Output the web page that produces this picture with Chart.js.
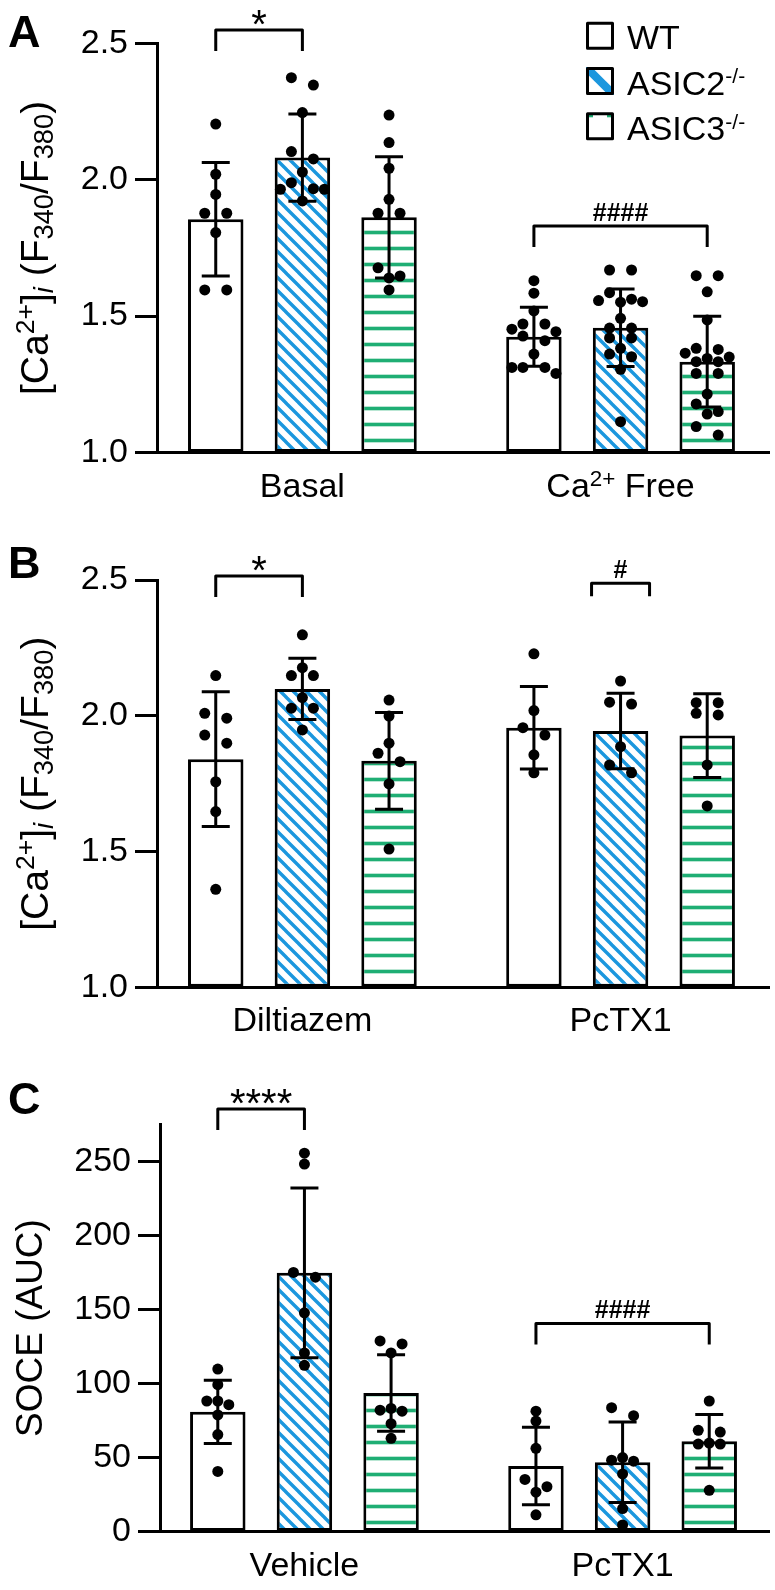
<!DOCTYPE html>
<html>
<head>
<meta charset="utf-8">
<script src="https://cdn.jsdelivr.net/npm/chart.js@4.4.0/dist/chart.umd.min.js"></script>
<style>
  body { margin: 0; background: #fff; overflow: hidden; }
  .panel { position: absolute; left: 0; width: 775px; }
</style>
</head>
<body>
<div class="panel" style="top:0px"><canvas id="chartA" width="775" height="515" style="width:775px;height:515px"></canvas></div>
<div class="panel" style="top:515px"><canvas id="chartB" width="775" height="535" style="width:775px;height:535px"></canvas></div>
<div class="panel" style="top:1050px"><canvas id="chartC" width="775" height="540" style="width:775px;height:540px"></canvas></div>
<script>
// ---- data ----
const genotypes = ['WT', 'ASIC2-/-', 'ASIC3-/-'];
const legendLabels = ['WT', 'ASIC2^{-/-}', 'ASIC3^{-/-}'];

// Panel A
const groupsA = ['Basal', 'Ca^{2+} Free'];
const yTitleA = '[Ca^{2+}]_{i} (F_{340}/F_{380})';
const yRangeA = [1.0, 2.5, 0.5];
const meanA = [[1.855, 2.081, 1.862], [1.424, 1.457, 1.333]];
const sdA = [[0.208, 0.160, 0.222], [0.108, 0.142, 0.166]];
const pointsA = [
  [
    [2.204, 2.02, 1.946, 1.877, 1.877, 1.806, 1.596, 1.596],
    [2.374, 2.347, 2.246, 2.103, 2.076, 2.028, 1.989, 1.967, 1.965, 1.965, 1.922],
    [2.237, 2.136, 2.042, 1.928, 1.877, 1.877, 1.677, 1.647, 1.640, 1.596]
  ],
  [
    [1.630, 1.584, 1.519, 1.471, 1.471, 1.452, 1.443, 1.427, 1.410, 1.361, 1.312, 1.312, 1.312, 1.290],
    [1.669, 1.669, 1.586, 1.562, 1.557, 1.553, 1.551, 1.492, 1.456, 1.456, 1.42, 1.42, 1.382, 1.361, 1.351, 1.305, 1.113],
    [1.648, 1.648, 1.589, 1.486, 1.382, 1.378, 1.364, 1.35, 1.345, 1.333, 1.333, 1.290, 1.290, 1.214, 1.178, 1.150, 1.141, 1.095, 1.064]
  ]
];
const bracketsA = [
  { g: 0, a: 0, b: 1, y: 2.549, text: '*' },
  { g: 1, a: 0, b: 2, y: 1.830, text: '####' }
];

// Panel B
const groupsB = ['Diltiazem', 'PcTX1'];
const yTitleB = '[Ca^{2+}]_{i} (F_{340}/F_{380})';
const yRangeB = [1.0, 2.5, 0.5];
const meanB = [[1.840, 2.099, 1.834], [1.956, 1.944, 1.927]];
const sdB = [[0.248, 0.113, 0.178], [0.152, 0.139, 0.154]];
const pointsB = [
  [
    [2.148, 2.009, 1.991, 1.929, 1.899, 1.757, 1.647, 1.361],
    [2.298, 2.177, 2.148, 2.148, 2.067, 2.028, 2.028, 1.948],
    [2.058, 1.999, 1.899, 1.862, 1.831, 1.749, 1.509]
  ],
  [
    [2.228, 2.019, 1.956, 1.929, 1.856, 1.790],
    [2.128, 2.050, 2.043, 1.886, 1.819, 1.790],
    [2.048, 2.048, 2.009, 2.003, 1.819, 1.668]
  ]
];
const bracketsB = [
  { g: 0, a: 0, b: 1, y: 2.515, text: '*' },
  { g: 1, a: 1, b: 1, y: 2.488, text: '#' }
];

// Panel C
const groupsC = ['Vehicle', 'PcTX1'];
const yTitleC = 'SOCE (AUC)';
const yRangeC = [0, 275, 50];
const meanC = [[80.9, 174.8, 93.6], [44.3, 46.8, 61.0]];
const sdC = [[21.4, 57.3, 25.9], [26.2, 27.2, 18.1]];
const pointsC = [
  [
    [109.8, 99.2, 88.2, 88.2, 85.7, 78.8, 65.5, 40.6],
    [255.7, 248.3, 175.1, 171.9, 147.8, 120.7, 112.3],
    [128.8, 126.8, 120.7, 83.2, 82.0, 81.3, 72.9, 63.0]
  ],
  [
    [81.3, 74.6, 56.2, 35.2, 30.3, 26.6, 11.3],
    [83.7, 78.3, 50.0, 48.2, 47.5, 38.9, 15.5, 4.4],
    [88.2, 68.4, 67.2, 59.8, 59.1, 59.1, 27.8]
  ]
];
const bracketsC = [
  { g: 0, a: 0, b: 1, y: 285.5, text: '****' },
  { g: 1, a: 0, b: 2, y: 140.6, text: '####' }
];

// ---- drawing ----
const FONT = "'Liberation Sans', Arial, Helvetica, sans-serif";
const GAP = 3.672;        // x distance between the two groups (bar units)
const BLUE = '#1b97de';
const GREEN = '#1fae74';
const DOT_STEP = 11;      // px between dot columns
const DOT_ROW = 9.5;      // px: dots closer than this share a row

Chart.defaults.font.family = FONT;
Chart.defaults.color = '#000';

function diagPattern(ctx) {
  const s = 13;
  const c = document.createElement('canvas');
  c.width = s; c.height = s;
  const g = c.getContext('2d');
  g.fillStyle = '#fff';
  g.fillRect(0, 0, s, s);
  g.strokeStyle = BLUE;
  g.lineWidth = 3.4;
  g.beginPath();
  [-s, 0, s].forEach(o => { g.moveTo(o - 1, -1); g.lineTo(o + s + 1, s + 1); });
  g.stroke();
  return ctx.createPattern(c, 'repeat');
}

function stripePattern(ctx) {
  const c = document.createElement('canvas');
  c.width = 4; c.height = 16;
  const g = c.getContext('2d');
  g.fillStyle = '#fff';
  g.fillRect(0, 0, 4, 16);
  g.fillStyle = '#b9e6d3';
  g.fillRect(0, 6, 4, 5);
  g.fillStyle = GREEN;
  g.fillRect(0, 7, 4, 3);
  return ctx.createPattern(c, 'repeat');
}

function parseRich(s) {
  const out = [];
  const re = /([\^_])\{([^}]*)\}/g;
  let last = 0, m;
  while ((m = re.exec(s))) {
    if (m.index > last) out.push({ t: s.slice(last, m.index), k: 'n' });
    out.push({ t: m[2], k: m[1] === '^' ? 'sup' : 'sub' });
    last = re.lastIndex;
  }
  if (last < s.length) out.push({ t: s.slice(last), k: 'n' });
  return out;
}

function drawRich(ctx, text, x, y, size, align, o = {}) {
  const supS = o.supScale || 0.65, supR = o.supRaise || 0.32;
  const subS = o.subScale || 0.7, subD = o.subDrop || 0.16;
  const segs = parseRich(text).map(s => {
    const sz = s.k === 'n' ? size : size * (s.k === 'sup' ? supS : subS);
    const italic = s.k === 'sub' && /^[a-z]+$/i.test(s.t);
    const font = (italic ? 'italic ' : '') + sz + 'px ' + FONT;
    ctx.font = font;
    const dy = s.k === 'sup' ? -size * supR : (s.k === 'sub' ? size * subD : 0);
    return { t: s.t, font, dy, w: ctx.measureText(s.t).width };
  });
  const total = segs.reduce((a, s) => a + s.w, 0);
  let cx = align === 'center' ? x - total / 2 : (align === 'right' ? x - total : x);
  ctx.textAlign = 'left';
  ctx.textBaseline = 'alphabetic';
  segs.forEach(s => { ctx.font = s.font; ctx.fillText(s.t, cx, y + s.dy); cx += s.w; });
}

function decoPlugin(p) {
  return {
    id: 'deco',
    afterDatasetsDraw(chart) {
      const { ctx, scales: { x, y } } = chart;
      ctx.save();
      ctx.strokeStyle = '#000';
      ctx.lineWidth = 3;
      p.means.forEach((row, g) => row.forEach((m, j) => {
        const px = x.getPixelForValue(g * GAP + j);
        const t = y.getPixelForValue(m + p.sds[g][j]);
        const b = y.getPixelForValue(m - p.sds[g][j]);
        ctx.beginPath();
        ctx.moveTo(px, t); ctx.lineTo(px, b);
        ctx.moveTo(px - 14, t); ctx.lineTo(px + 14, t);
        ctx.moveTo(px - 14, b); ctx.lineTo(px + 14, b);
        ctx.stroke();
      }));
      ctx.restore();
    },
    afterDraw(chart) {
      const { ctx, chartArea, scales: { x, y } } = chart;
      ctx.save();
      ctx.fillStyle = '#000';
      ctx.strokeStyle = '#000';

      // group labels under the axis
      p.groups.forEach((label, g) => {
        drawRich(ctx, label, x.getPixelForValue(g * GAP + 1), chartArea.bottom + 44, 34, 'center',
          { supScale: 0.66, supRaise: 0.3 });
      });

      // y axis title
      ctx.save();
      ctx.translate(p.titleX, (chartArea.top + chartArea.bottom) / 2);
      ctx.rotate(-Math.PI / 2);
      drawRich(ctx, p.title, 0, 0, p.titleSize, 'center', { supScale: 0.68, supRaise: 0.36, subScale: 0.7, subDrop: 0.14 });
      ctx.restore();

      // panel letter
      ctx.font = 'bold 45px ' + FONT;
      ctx.textAlign = 'left';
      ctx.textBaseline = 'alphabetic';
      ctx.fillText(p.letter, 8, p.letterY);

      // significance brackets
      ctx.lineWidth = 3;
      ctx.lineJoin = 'round';
      p.brackets.forEach(br => {
        const single = br.a === br.b;
        const x1 = x.getPixelForValue(br.g * GAP + br.a) - (single ? 29 : 0);
        const x2 = x.getPixelForValue(br.g * GAP + br.b) + (single ? 29 : 0);
        const top = y.getPixelForValue(br.y);
        const leg = single ? 13 : 21;
        ctx.beginPath();
        ctx.moveTo(x1, top + leg); ctx.lineTo(x1, top); ctx.lineTo(x2, top); ctx.lineTo(x2, top + leg);
        ctx.stroke();
        const star = br.text[0] === '*';
        ctx.font = star ? '40px ' + FONT : 'bold 25px ' + FONT;
        ctx.textAlign = 'center';
        ctx.fillText(br.text, (x1 + x2) / 2, star ? top + 8 : top - 5.5);
      });

      // legend
      if (p.legend) {
        legendLabels.forEach((label, i) => {
          const bx = 586, by = 21.7 + i * 45.3, bs = 28;
          ctx.save();
          ctx.beginPath();
          ctx.rect(bx, by, bs, bs);
          ctx.clip();
          ctx.fillStyle = '#fff';
          ctx.fillRect(bx, by, bs, bs);
          if (i === 1) {
            ctx.strokeStyle = BLUE;
            ctx.lineWidth = 8;
            ctx.beginPath();
            ctx.moveTo(bx, by); ctx.lineTo(bx + bs, by + bs);
            ctx.stroke();
          } else if (i === 2) {
            ctx.fillStyle = GREEN;
            ctx.fillRect(bx + 2, by + 2.5, 5, 2.5);
            ctx.fillRect(bx + bs - 7, by + 2.5, 5, 2.5);
          }
          ctx.restore();
          ctx.lineWidth = 3;
          ctx.strokeStyle = '#000';
          ctx.strokeRect(bx + 1.5, by + 1.5, bs - 3, bs - 3);
          ctx.fillStyle = '#000';
          drawRich(ctx, label, 627, by + 27.5, 34, 'left', { supScale: 0.62, supRaise: 0.33 });
        });
      }
      ctx.restore();
    }
  };
}

function spreadDots(chart) {
  const xs = chart.scales.x, ys = chart.scales.y;
  const pxPerUnit = xs.getPixelForValue(1) - xs.getPixelForValue(0);
  chart.data.datasets.forEach(ds => {
    if (ds.type !== 'scatter') return;
    const byBar = {};
    const pts = ds.data.map(p => ({ ...p }));
    pts.forEach(p => { (byBar[p.c] = byBar[p.c] || []).push(p); });
    Object.values(byBar).forEach(list => {
      const sorted = list.slice().sort((a, b) => b.y - a.y);
      let i = 0;
      while (i < sorted.length) {
        const y0 = ys.getPixelForValue(sorted[i].y);
        let j = i + 1;
        while (j < sorted.length && ys.getPixelForValue(sorted[j].y) - y0 < DOT_ROW) j++;
        const n = j - i;
        const cols = n % 2 ? [0] : [];
        for (let k = 1; cols.length < n; k++) cols.push(-k, k);
        for (let k = 0; k < n; k++) sorted[i + k].x = sorted[i + k].c + cols[k] * DOT_STEP / pxPerUnit;
        i = j;
      }
    });
    ds.data = pts;
  });
  chart.update('none');
}

function makePanel(p) {
  const canvas = document.getElementById(p.id);
  const ctx = canvas.getContext('2d');
  const fills = ['#fff', diagPattern(ctx), stripePattern(ctx)];
  const datasets = [];
  genotypes.forEach((name, j) => {
    datasets.push({
      type: 'bar',
      label: name,
      data: p.means.map((row, g) => ({ x: g * GAP + j, y: row[j] })),
      base: p.yRange[0],
      grouped: false,
      categoryPercentage: 1,
      barPercentage: 0.64,
      backgroundColor: fills[j],
      borderColor: '#000',
      borderWidth: 3,
      borderSkipped: false,
      order: 2
    });
  });
  genotypes.forEach((name, j) => {
    const pts = [];
    p.points.forEach((row, g) => row[j].forEach(v => pts.push({ x: g * GAP + j, y: v, c: g * GAP + j })));
    datasets.push({
      type: 'scatter',
      label: name + ' cells',
      data: pts,
      pointRadius: 5.5,
      pointHoverRadius: 5.5,
      backgroundColor: '#000',
      borderWidth: 0,
      clip: false,
      order: 1
    });
  });

  const chart = new Chart(canvas, {
    type: 'bar',
    data: { datasets },
    options: {
      responsive: false,
      animation: false,
      devicePixelRatio: 1,
      events: [],
      layout: { padding: { top: p.top, right: 3, left: 0, bottom: 0 } },
      plugins: { legend: { display: false }, tooltip: { enabled: false } },
      scales: {
        x: {
          type: 'linear',
          min: p.xMin,
          max: p.xMin + (772 - p.yAxisW) / 87,
          offset: false,
          afterFit: s => { s.height = p.height - p.bottom; },
          afterBuildTicks: s => { s.ticks = p.groups.map((_, g) => ({ value: g * GAP + 1 })); },
          border: { display: true, width: 3, color: '#000' },
          grid: { display: false },
          ticks: { display: false }
        },
        y: {
          min: p.yRange[0],
          max: p.yRange[1],
          afterFit: s => { s.width = p.yAxisW; },
          border: { display: true, width: 3, color: '#000' },
          grid: { display: true, drawOnChartArea: false, drawTicks: true, tickLength: 22, tickWidth: 3, tickColor: '#000' },
          ticks: {
            stepSize: p.yRange[2],
            includeBounds: false,
            padding: 7,
            color: '#000',
            font: { size: 34 },
            callback: v => (p.yRange[2] < 1 ? v.toFixed(1) : String(v))
          }
        }
      }
    },
    plugins: [decoPlugin(p)]
  });
  spreadDots(chart);
  return chart;
}

makePanel({
  id: 'chartA', letter: 'A', letterY: 47, legend: true,
  height: 515, top: 43.3, bottom: 452.5, yAxisW: 157, xMin: -0.678,
  title: yTitleA, titleX: 48, titleSize: 39,
  groups: groupsA, yRange: yRangeA, means: meanA, sds: sdA, points: pointsA, brackets: bracketsA
});
makePanel({
  id: 'chartB', letter: 'B', letterY: 63, legend: false,
  height: 535, top: 65, bottom: 472.3, yAxisW: 157, xMin: -0.678,
  title: yTitleB, titleX: 48, titleSize: 39,
  groups: groupsB, yRange: yRangeB, means: meanB, sds: sdB, points: pointsB, brackets: bracketsB
});
makePanel({
  id: 'chartC', letter: 'C', letterY: 63.7, legend: false,
  height: 540, top: 74.6, bottom: 481.5, yAxisW: 160, xMin: -0.667,
  title: yTitleC, titleX: 42, titleSize: 37,
  groups: groupsC, yRange: yRangeC, means: meanC, sds: sdC, points: pointsC, brackets: bracketsC
});
</script>
</body>
</html>
